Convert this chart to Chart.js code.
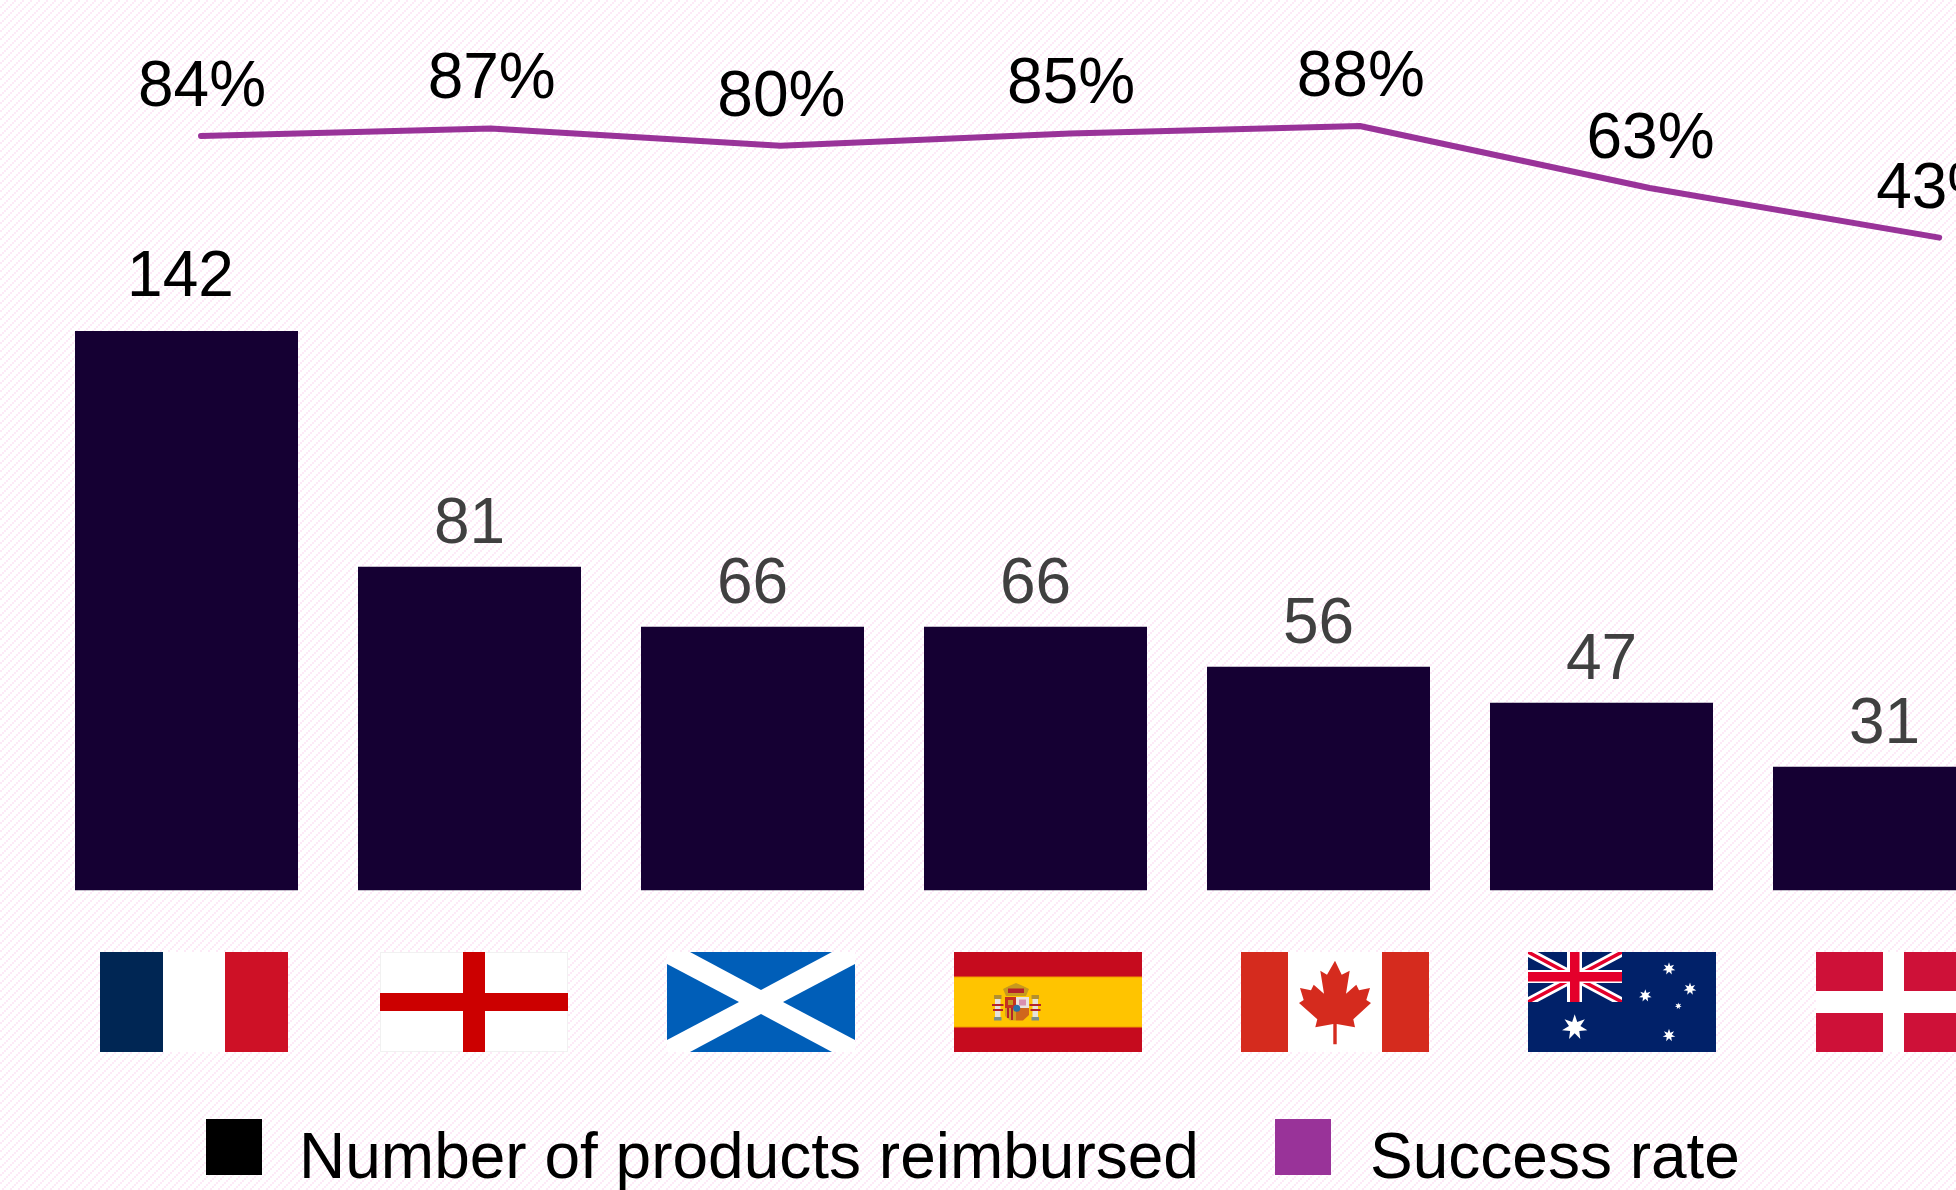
<!DOCTYPE html>
<html>
<head>
<meta charset="utf-8">
<title>Products reimbursed and success rate</title>
<script src="https://cdn.jsdelivr.net/npm/chart.js@4"></script>
<style>
  html, body {
    margin: 0;
    width: 1956px;
    height: 1190px;
    overflow: hidden;
    background-color: #ffffff;
    background-image: url("data:image/svg+xml,%3Csvg xmlns='http://www.w3.org/2000/svg' width='8' height='8' shape-rendering='crispEdges'%3E%3Cpath fill='%23fdeaf7' d='M0 6h2v2H0zM2 4h2v2H2zM4 2h2v2H4zM6 0h2v2H6z'/%3E%3C/svg%3E");
  }
  canvas { position: absolute; left: 0; top: 0; }
</style>
</head>
<body>
<canvas id="combo" width="2030" height="1190"></canvas>
<script>
var categories = ["France", "England", "Scotland", "Spain", "Canada", "Australia", "Denmark"];
var productCounts = [142, 81, 66, 66, 56, 47, 31];
var successRates = [84, 87, 80, 85, 88, 63, 43];
var legendNames = ["Number of products reimbursed", "Success rate"];

var FONT = '64px "Liberation Sans", Arial, sans-serif';

function rect(ctx, color, x, y, w, h) {
    ctx.fillStyle = color;
    ctx.fillRect(x, y, w, h);
}

function poly(ctx, color, pts) {
    ctx.fillStyle = color;
    ctx.beginPath();
    pts.forEach(function(p, i) {
        if (i === 0) ctx.moveTo(p[0], p[1]);
        else ctx.lineTo(p[0], p[1]);
    });
    ctx.closePath();
    ctx.fill();
}

function star(ctx, cx, cy, r) {
    var pts = [];
    for (var i = 0; i < 14; i++) {
        var a = -Math.PI / 2 + i * Math.PI / 7;
        var len = i % 2 ? r * 0.45 : r;
        pts.push([cx + Math.cos(a) * len, cy + Math.sin(a) * len]);
    }
    poly(ctx, "#ffffff", pts);
}

// every flag is drawn in a 188 x 100 box
var flagPainters = {
    France: function(ctx) {
        rect(ctx, "#002654", 0, 0, 63, 100);
        rect(ctx, "#ffffff", 63, 0, 63, 100);
        rect(ctx, "#ce1126", 125, 0, 63, 100);
    },
    England: function(ctx) {
        rect(ctx, "#ffffff", 0, 0, 188, 100);
        ctx.strokeStyle = "#f1f1f1";
        ctx.strokeRect(0.5, 0.5, 187, 99);
        rect(ctx, "#cc0000", 83, 0, 22, 100);
        rect(ctx, "#cc0000", 0, 41, 188, 18);
    },
    Scotland: function(ctx) {
        rect(ctx, "#ffffff", 0, 0, 188, 100);
        var blue = "#005eb8";
        poly(ctx, blue, [[23, 0], [165, 0], [94, 38]]);
        poly(ctx, blue, [[23, 100], [165, 100], [94, 62]]);
        poly(ctx, blue, [[0, 12], [0, 88], [72, 50]]);
        poly(ctx, blue, [[188, 12], [188, 88], [116, 50]]);
    },
    Spain: function(ctx) {
        rect(ctx, "#c60b1e", 0, 0, 188, 100);
        rect(ctx, "#f09a00", 0, 24.5, 188, 51);
        rect(ctx, "#ffc400", 0, 25.5, 188, 49);
        // pillars
        [41, 78.5].forEach(function(px) {
            rect(ctx, "#e6e2da", px, 47, 5.5, 19);
            rect(ctx, "#b38f2e", px - 1, 43, 7.5, 4);
            rect(ctx, "#7d8e8a", px - 1, 65, 7.5, 3.5);
            rect(ctx, "#b5222a", px - 3, 52, 11.5, 2);
            rect(ctx, "#b5222a", px - 2, 57, 10, 2);
        });
        // crown
        poly(ctx, "#c79a1e", [[52, 44], [49, 37], [55, 34], [62, 31], [69, 34], [75, 37], [72, 44]]);
        rect(ctx, "#b5222a", 54, 36.5, 16, 4.5);
        // shield
        rect(ctx, "#c4321f", 51, 45, 11, 11.5);
        rect(ctx, "#c79a1e", 54, 48, 5, 5);
        rect(ctx, "#e9e2de", 62, 45, 13, 11.5);
        rect(ctx, "#d98fb0", 65, 47.5, 7, 6);
        poly(ctx, "#d0a020", [[51, 56], [62, 56], [62, 68.5], [56, 68.5], [51, 64]]);
        rect(ctx, "#b5222a", 53, 56, 2, 10);
        rect(ctx, "#b5222a", 57, 56, 2, 12);
        poly(ctx, "#d0661c", [[62, 56], [75, 56], [75, 63], [69, 68.5], [62, 68.5]]);
        ctx.fillStyle = "#2a6fa8";
        ctx.beginPath();
        ctx.arc(62.7, 56.3, 3.5, 0, Math.PI * 2);
        ctx.fill();
    },
    Canada: function(ctx) {
        rect(ctx, "#ffffff", 0, 0, 188, 100);
        rect(ctx, "#d52b1e", 0, 0, 47, 100);
        rect(ctx, "#d52b1e", 141, 0, 47, 100);
        poly(ctx, "#d52b1e", [[94, 8.7], [100.7, 22.7], [108.7, 18.7], [105, 41.7], [115.3, 32.7], [118, 38.3],
            [129, 36], [125.3, 48], [130, 51], [112.3, 67.3], [114, 75.3], [95.7, 72], [95.7, 92.3], [92.3, 92.3],
            [92.3, 72], [74.3, 75.3], [76.3, 67.3], [58, 51], [62.7, 48], [59, 36], [70, 38.3], [72.7, 32.7],
            [83, 41.7], [79.3, 18.7], [86, 22.7]]);
    },
    Australia: function(ctx) {
        rect(ctx, "#012169", 0, 0, 188, 100);
        ctx.save();
        ctx.beginPath();
        ctx.rect(0, 0, 94, 50);
        ctx.clip();
        ctx.strokeStyle = "#ffffff";
        ctx.lineWidth = 9;
        ctx.beginPath();
        ctx.moveTo(0, 0); ctx.lineTo(94, 50);
        ctx.moveTo(94, 0); ctx.lineTo(0, 50);
        ctx.stroke();
        ctx.strokeStyle = "#e4002b";
        ctx.lineWidth = 3.5;
        ctx.stroke();
        ctx.restore();
        rect(ctx, "#ffffff", 39, 0, 15, 50);
        rect(ctx, "#ffffff", 0, 18, 94, 13);
        rect(ctx, "#e4002b", 42, 0, 9.5, 50);
        rect(ctx, "#e4002b", 0, 20, 94, 9.5);
        star(ctx, 46.7, 75.3, 13);
        star(ctx, 141, 16.7, 6.5);
        star(ctx, 162, 37, 6.5);
        star(ctx, 117.3, 43.7, 6.5);
        star(ctx, 150.3, 54, 3.5);
        star(ctx, 141, 83.3, 6.5);
    },
    Denmark: function(ctx) {
        rect(ctx, "#ce1138", 0, 0, 188, 100);
        rect(ctx, "#ffffff", 67, 0, 21, 100);
        rect(ctx, "#ffffff", 0, 39, 188, 22);
    }
};

// value labels, flags under the axis and the legend row
var chartDecorations = {
    id: "chartDecorations",
    afterDatasetsDraw: function(chart) {
        var ctx = chart.ctx;
        var s = chart.scales;
        ctx.save();
        ctx.font = FONT;
        ctx.textAlign = "center";
        ctx.textBaseline = "alphabetic";

        productCounts.forEach(function(v, i) {
            ctx.fillStyle = i === 0 ? "#000000" : "#404040";
            // the first label sits a little off its bar
            var x = s.x.getPixelForValue(i) + (i === 0 ? -6 : 0);
            var y = s.y.getPixelForValue(v) - (i === 0 ? 27 : 24);
            ctx.fillText(String(v), x, y);
        });

        ctx.fillStyle = "#000000";
        successRates.forEach(function(v, i) {
            ctx.fillText(v + "%", s.xLine.getPixelForValue(i) + 1, s.yLine.getPixelForValue(v) - 30);
        });

        categories.forEach(function(name, i) {
            ctx.save();
            var flagCenter = s.xFlag.getPixelForValue(i) + (i === 0 ? 7.5 : 0);
            ctx.translate(Math.round(flagCenter - 94), 952);
            ctx.beginPath();
            ctx.rect(0, 0, 188, 100);
            ctx.clip();
            flagPainters[name](ctx);
            ctx.restore();
        });

        ctx.textAlign = "left";
        rect(ctx, "#000000", 206, 1119, 56, 56);
        rect(ctx, "#993399", 1275, 1119, 56, 56);
        ctx.fillStyle = "#000000";
        ctx.fillText(legendNames[0], 299, 1178);
        ctx.fillText(legendNames[1], 1370, 1178);
        ctx.restore();
    }
};

var myChart = new Chart(document.getElementById("combo").getContext("2d"), {
    type: "bar",
    data: {
        labels: categories,
        datasets: [{
            type: "line",
            label: legendNames[1],
            data: successRates.map(function(v, i) { return { x: i, y: v }; }),
            xAxisID: "xLine",
            yAxisID: "yLine",
            borderColor: "#993399",
            borderWidth: 6,
            borderCapStyle: "round",
            borderJoinStyle: "round",
            pointRadius: 0,
            tension: 0,
            clip: false,
            order: 1
        }, {
            label: legendNames[0],
            data: productCounts,
            xAxisID: "x",
            yAxisID: "y",
            backgroundColor: "#150033",
            barPercentage: 0.788,
            categoryPercentage: 1,
            grouped: false,
            order: 2
        }]
    },
    options: {
        responsive: false,
        animation: false,
        layout: { padding: { left: 45, right: 4, top: 331, bottom: 299.4 } },
        plugins: { legend: { display: false }, tooltip: { enabled: false } },
        scales: {
            x: { display: false },
            // the tallest bar runs past the top of this axis
            y: { display: false, min: 0, max: 140 },
            xLine: { type: "linear", display: false, offset: false, min: -0.5385, max: 6.2996 },
            yLine: { display: false, position: "right", min: -220.3, max: 5.34 },
            xFlag: { type: "linear", display: false, offset: false, min: -0.4927, max: 6.405 }
        }
    },
    plugins: [chartDecorations]
});
</script>
</body>
</html>
